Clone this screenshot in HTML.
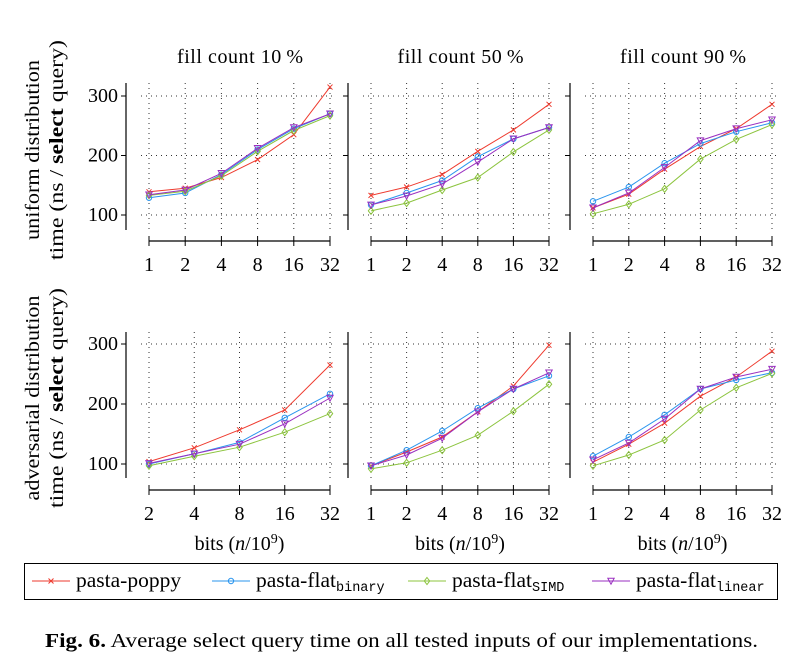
<!DOCTYPE html>
<html><head><meta charset="utf-8"><style>
body{margin:0;background:#fff}
svg{display:block;font-family:"Liberation Serif",serif}
</style></head><body>
<svg id="c" width="796" height="662" viewBox="0 0 796 662"></svg>
<script>
const seriesNames=["pasta-poppy","pasta-flat-binary","pasta-flat-simd","pasta-flat-linear"];
const xTicksA=["1","2","4","8","16","32"];
const xTicksB=["2","4","8","16","32"];
const yTicks=[100,200,300];
const titles=["fill count 10\u2009%","fill count 50\u2009%","fill count 90\u2009%"];
const r1c1=[[139,145,163,193,235,315],[129,137,168,210,245,270],[133,140,166,207,242,267],[134,142,170,212,247,270]];
const r1c2=[[133,147,168,207,243,286],[117,137,158,198,228,247],[107,120,142,163,206,243],[117,132,152,189,228,247]];
const r1c3=[[112,135,177,215,245,286],[123,147,187,220,240,255],[102,118,144,194,227,252],[112,137,180,225,245,260]];
const r2c1=[[104,127,157,190,265],[100,117,136,177,217],[97,113,128,153,184],[101,117,133,167,210]];
const r2c2=[[97,120,145,187,230,298],[97,123,155,193,225,247],[92,102,123,148,188,233],[97,115,143,187,225,252]];
const r2c3=[[103,133,168,213,245,288],[113,145,182,225,240,252],[97,115,140,190,227,251],[107,135,175,225,245,258]];

const colors=["#ee3a2e","#2a95ee","#8cc43e","#9a2fc0"];
const NS="http://www.w3.org/2000/svg";
const svg=document.getElementById('c');
function mk(tag,attrs,parent,text){const e=document.createElementNS(NS,tag);for(const k in attrs)e.setAttribute(k,attrs[k]);if(text!==undefined)e.textContent=text;(parent||svg).appendChild(e);return e;}
function marker(g,i,x,y){const c=colors[i];
 if(i===0){mk('path',{d:`M${x-2.5},${y-2.5}L${x+2.5},${y+2.5}M${x-2.5},${y+2.5}L${x+2.5},${y-2.5}`,stroke:c,'stroke-width':1,fill:'none'},g);}
 else if(i===1){mk('circle',{cx:x,cy:y,r:2.7,stroke:c,fill:'none','stroke-width':1},g);}
 else if(i===2){mk('path',{d:`M${x},${y-3.5}L${x+2.7},${y}L${x},${y+3.5}L${x-2.7},${y}Z`,stroke:c,fill:'none','stroke-width':1},g);}
 else {mk('path',{d:`M${x-3.2},${y-2.8}L${x+3.2},${y-2.8}L${x},${y+3.2}Z`,stroke:c,fill:'none','stroke-width':1},g);}
}
const cols=[{ax:126,x0:149,x1:330},{ax:348,x0:371,x1:549},{ax:570,x0:593,x1:772}];
const rows=[{y100:215,y300:96,top:83,bot:230,axis:241,lab:271},{y100:464,y300:344,top:332,bot:478,axis:490,lab:520}];
const data=[[r1c1,r1c2,r1c3],[r2c1,r2c2,r2c3]];
rows.forEach((R,ri)=>{cols.forEach((C,ci)=>{
 const ticks=(ri===1&&ci===0)?xTicksB:xTicksA;
 const n=ticks.length;
 const xs=k=>C.x0+(C.x1-C.x0)*k/(n-1);
 const ys=v=>R.y100+(v-100)*(R.y300-R.y100)/200;
 const g=mk('g',{});
 
 
 ticks.forEach((t,k)=>{mk('line',{x1:xs(k),x2:xs(k),y1:R.top,y2:R.bot,stroke:'#333','stroke-width':1,'stroke-dasharray':'1 4'},g);
  mk('line',{x1:xs(k),x2:xs(k),y1:R.axis-5,y2:R.axis+5,stroke:'#000'},g);
  const tl=mk('text',{x:xs(k),y:R.lab,'text-anchor':'middle','font-size':20},g,t);
  
  });
 yTicks.forEach(v=>{mk('line',{x1:C.x0-8,x2:C.x1+4,y1:ys(v),y2:ys(v),stroke:'#333','stroke-width':1,'stroke-dasharray':'1 4'},g);
  mk('line',{x1:C.ax-5,x2:C.ax,y1:ys(v),y2:ys(v),stroke:'#000'},g);
  if(ci===0){const yl=mk('text',{x:C.ax-8,y:ys(v)+6,'text-anchor':'end','font-size':20},g,String(v));
   
   }});
 mk('line',{x1:C.ax,x2:C.ax,y1:R.top,y2:R.bot,stroke:'#000','stroke-width':1.2},g);
 mk('line',{x1:C.x0,x2:C.x1,y1:R.axis,y2:R.axis,stroke:'#000','stroke-width':1.2},g);
 data[ri][ci].forEach((s,i)=>{
  const pts=s.map((v,k)=>xs(k)+','+ys(v)).join(' ');
  const pl=mk('polyline',{points:pts,fill:'none',stroke:colors[i],'stroke-width':1},g);
  
  
  s.forEach((v,k)=>marker(g,i,xs(k),ys(v)));
 });
 if(ri===0){const t=mk('text',{x:(C.ax+C.x1)/2+12,y:63,'text-anchor':'middle','font-size':20,textLength:126,lengthAdjust:'spacing'},g,titles[ci]);
  
  }
 if(ri===1){const t=mk('text',{x:(C.x0+C.x1)/2,y:550,'text-anchor':'middle','font-size':20},g);
  
  
  t.innerHTML='bits (<tspan font-style="italic">n</tspan>/10<tspan font-size="14" dy="-7">9</tspan><tspan dy="7">)</tspan>';}
});});
[[150,'uniform distribution',180],[398,'adversarial distribution',205]].forEach(([cy,l1,len])=>{
 const t=mk('text',{transform:`translate(39,${cy}) rotate(-90)`,'text-anchor':'middle','font-size':20,textLength:len,lengthAdjust:'spacingAndGlyphs'},svg,l1);
 
 
 const t2=mk('text',{transform:`translate(63,${cy}) rotate(-90)`,'text-anchor':'middle','font-size':20,textLength:220,lengthAdjust:'spacingAndGlyphs'},svg);
 
 
 t2.innerHTML='time (ns / <tspan font-weight="bold">select</tspan> query)';
});
const lg=mk('g',{});


mk('rect',{x:24.5,y:563.5,width:753,height:36,fill:'none',stroke:'#000'},lg);
const leg=[[32,'pasta-poppy',''],[212,'pasta-flat','binary'],[408,'pasta-flat','SIMD'],[592,'pasta-flat','linear']];
leg.forEach(([x,a,b],i)=>{
 const e=mk('g',{},lg);
 
 
 mk('line',{x1:x,x2:x+38,y1:581,y2:581,stroke:colors[i]},e);
 marker(e,i,x+19,581);
 const t=mk('text',{x:x+44,y:587,'font-size':21.5},e,a);
 if(b){mk('tspan',{'font-family':'Liberation Mono,monospace','font-size':13.5,dy:4},t,b);}
});
const cap=mk('text',{x:45,y:647,'font-size':20,textLength:713,lengthAdjust:'spacingAndGlyphs'},svg);


cap.innerHTML='<tspan font-weight="bold">Fig. 6.</tspan>  Average select query time on all tested inputs of our implementations.';
</script>
</body></html>
